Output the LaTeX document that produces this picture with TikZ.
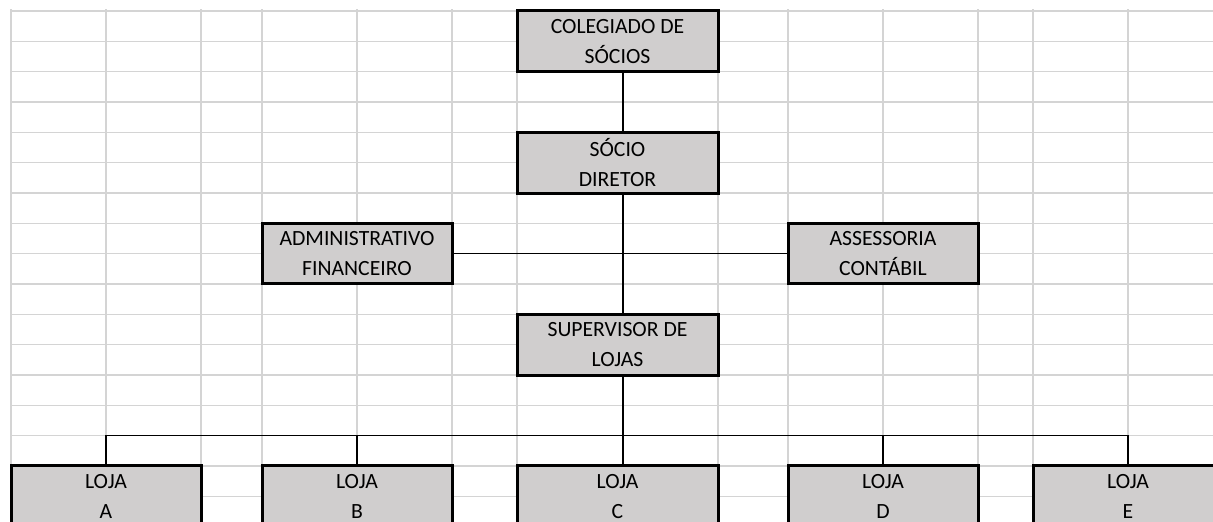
\documentclass[tikz,border=0pt]{standalone}
\usepackage{fontspec}
\setmainfont{Carlito}
\definecolor{gridc}{HTML}{D4D4D4}
\definecolor{boxfill}{HTML}{D0CECE}
\tikzset{
  gridline/.style={draw=gridc, line width=0.55pt},
  orgbox/.style={draw=black, fill=boxfill, line width=1.5pt, rectangle,
    minimum height=30.35pt, inner sep=0pt, align=center,
    font=\fontsize{10.85pt}{15.17pt}\selectfont},
  narrow/.style={orgbox, minimum width=95pt},
  wide/.style={orgbox, minimum width=100.5pt},
  conn/.style={draw=black, line width=0.6pt}
}
\begin{document}
\begin{tikzpicture}[x=0.5pt, y=-0.5pt]
\useasboundingbox (0,0) rectangle (1213,521);
\clip (0,0) rectangle (1213,521);
% spreadsheet grid
\foreach \k in {0,...,16} {
  \draw[gridline] (11,{11+30.33*\k}) -- (1213,{11+30.33*\k});
}
\foreach \xx in {11,106,201,262,357,452,517,718,788,883,978,1033,1128} {
  \draw[gridline] (\xx,9) -- (\xx,521);
}
% boxes
\node[wide]   (col) at (617.5,41.3)  {COLEGIADO DE\\SÓCIOS};
\node[wide]   (soc) at (617.5,162.7) {SÓCIO\\DIRETOR};
\node[narrow] (adm) at (357,253.6)   {ADMINISTRATIVO\\FINANCEIRO};
\node[narrow] (ass) at (883,253.6)   {ASSESSORIA\\CONTÁBIL};
\node[wide]   (sup) at (617.5,344.7) {SUPERVISOR DE\\LOJAS};
\node[narrow] (la) at (106,496.3)    {LOJA\\A};
\node[narrow] (lb) at (357,496.3)    {LOJA\\B};
\node[wide]   (lc) at (617.5,496.3)  {LOJA\\C};
\node[narrow] (ld) at (883,496.3)    {LOJA\\D};
\node[narrow] (le) at (1128,496.3)   {LOJA\\E};
% connectors
\coordinate (spine) at (623,0);
\coordinate (bus) at (0,435.6);
\draw[conn] (col.south -| spine) -- (soc.north -| spine);
\draw[conn] (soc.south -| spine) -- (sup.north -| spine);
\draw[conn] (adm.east) -- (ass.west);
\draw[conn] (sup.south -| spine) -- (lc.north -| spine);
\draw[conn] (la.north) -- (la.north |- bus) -- (le.north |- bus) -- (le.north);
\draw[conn] (lb.north) -- (lb.north |- bus);
\draw[conn] (ld.north) -- (ld.north |- bus);
\end{tikzpicture}
\end{document}
